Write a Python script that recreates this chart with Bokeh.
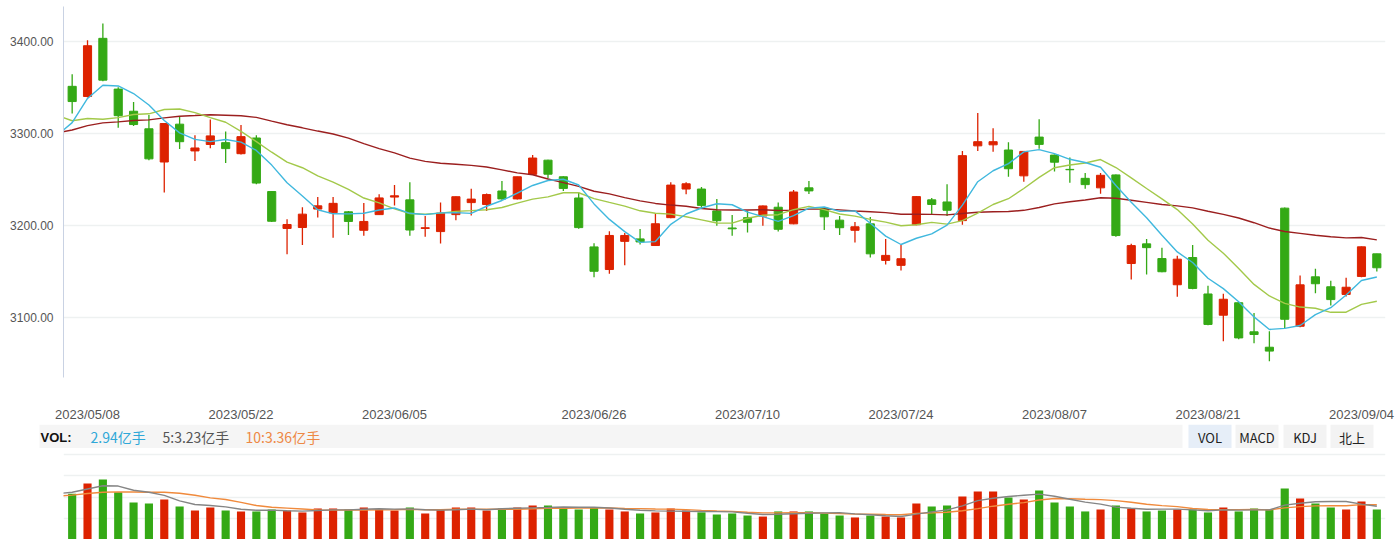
import pandas as pd
from bokeh.plotting import figure
from bokeh.layouts import column
from bokeh.models import Range1d, FixedTicker, NumeralTickFormatter, Grid, ColumnDataSource
from bokeh.core.properties import value
from bokeh.embed import file_html
from bokeh.resources import INLINE

# ---------------- data ----------------
may_days = [5, 8, 9, 10, 11, 12, 15, 16, 17, 18, 19, 22, 23, 24, 25, 26, 29, 30, 31]
jun_days = [1, 2, 5, 6, 7, 8, 9, 12, 13, 14, 15, 16, 19, 20, 21, 26, 27, 28, 29, 30]
jul_days = [3, 4, 5, 6, 7, 10, 11, 12, 13, 14, 17, 18, 19, 20, 21, 24, 25, 26, 27, 28, 31]
aug_days = [1, 2, 3, 4, 7, 8, 9, 10, 11, 14, 15, 16, 17, 18, 21, 22, 23, 24, 25, 28, 29, 30, 31]
sep_days = [1, 4, 5]
dates = ([f"2023/05/{d:02d}" for d in may_days] + [f"2023/06/{d:02d}" for d in jun_days] +
         [f"2023/07/{d:02d}" for d in jul_days] + [f"2023/08/{d:02d}" for d in aug_days] +
         [f"2023/09/{d:02d}" for d in sep_days])

tick_labels = ["2023/05/08", "2023/05/22", "2023/06/05", "2023/06/26", "2023/07/10",
               "2023/07/24", "2023/08/07", "2023/08/21", "2023/09/04"]

open_ = [3351, 3340, 3403, 3348, 3324, 3305, 3269, 3310, 3281, 3288,
         3290, 3278, 3295, 3237, 3197, 3198, 3218, 3214, 3215, 3195,
         3212, 3231, 3228, 3197, 3193.6, 3212, 3225, 3223, 3237.6, 3229,
         3255.6, 3271, 3253, 3230, 3177, 3152.5, 3183, 3185.7, 3178.5, 3208.7,
         3239.7, 3239.7, 3216, 3197.5, 3208.7, 3210.5, 3220, 3202, 3241, 3219,
         3206, 3195, 3202, 3162.4, 3157, 3201, 3228, 3225.7, 3205.5, 3286.5,
         3287.6, 3282, 3254, 3296, 3276.5, 3261, 3251.3, 3241, 3255, 3159,
         3180.3, 3164.4, 3136, 3165.5, 3126, 3103, 3116.5, 3085, 3068.3, 3219,
         3091, 3144.6, 3133.8, 3125.5, 3145, 3169.5]
high = [3364, 3401, 3419, 3350, 3334, 3320, 3311, 3318, 3298, 3315,
        3302, 3309, 3298, 3237.5, 3207, 3220, 3231, 3231, 3216, 3224.6,
        3234, 3244, 3247, 3210.5, 3225, 3231.5, 3240, 3235, 3248.4, 3253,
        3276.5, 3271.5, 3253.5, 3236, 3181, 3194, 3192, 3196.5, 3213.5, 3247,
        3247, 3242, 3229, 3211.6, 3216, 3222, 3225, 3238.6, 3248.4, 3220.3,
        3210.5, 3204, 3209.5, 3185.7, 3179.3, 3232.2, 3230, 3245, 3281, 3322,
        3305.6, 3290.5, 3281, 3315.4, 3277, 3274, 3257, 3257, 3255.5, 3180.3,
        3185.7, 3176, 3167.3, 3179.2, 3135, 3126.2, 3117, 3105.4, 3085.5, 3219.6,
        3146, 3153.3, 3140.3, 3143.6, 3177.5, 3169.6]
low = [3321.5, 3339, 3356.5, 3306, 3308, 3271, 3236, 3283, 3270, 3284,
       3268, 3277, 3245, 3204, 3169, 3179, 3209, 3187, 3190, 3189,
       3212, 3222, 3189, 3188, 3180.6, 3206, 3211, 3216, 3228, 3228.5,
       3255, 3251, 3237.6, 3196.8, 3144, 3148, 3157, 3179.6, 3178, 3208,
       3234, 3219, 3200, 3189, 3192.5, 3200, 3193.6, 3201.5, 3234.3, 3195.4,
       3190, 3181.7, 3165.5, 3158, 3151.4, 3200.5, 3212.7, 3210.5, 3201, 3281,
       3280, 3253, 3247.6, 3283.3, 3258.7, 3246.5, 3240, 3234.6, 3188, 3141.7,
       3147, 3149.5, 3123, 3131, 3092, 3074.7, 3077, 3072.5, 3053, 3088.8,
       3090, 3126.9, 3113.6, 3123.3, 3144, 3150.4]
close = [3334.5, 3395.0, 3357.7, 3319.2, 3309.6, 3272.4, 3310.7, 3291.0, 3284.2, 3297.3,
         3283.5, 3296.5, 3246.2, 3204.8, 3201.3, 3212.5, 3221.5, 3224.2, 3204.6, 3204.6,
         3230.1, 3232.4, 3195.3, 3197.8, 3213.6, 3231.4, 3228.8, 3233.7, 3229.0, 3253.0,
         3273.3, 3255.8, 3240.4, 3197.9, 3150.6, 3189.4, 3189.4, 3182.4, 3202.1, 3244.0,
         3245.4, 3222.0, 3205.4, 3196.6, 3203.7, 3221.4, 3196.1, 3236.5, 3237.7, 3209.6,
         3197.8, 3198.8, 3169.5, 3167.8, 3164.2, 3231.5, 3223.0, 3216.7, 3275.9, 3291.0,
         3291.0, 3261.7, 3280.5, 3288.1, 3268.8, 3260.6, 3244.5, 3254.6, 3189.3, 3178.4,
         3176.2, 3150.1, 3163.7, 3132.0, 3093.0, 3120.3, 3078.4, 3082.1, 3064.1, 3098.6,
         3135.9, 3137.1, 3119.9, 3133.3, 3177.1, 3154.4]
# closes of the 30 sessions before 2023/05/05 (needed for the moving averages)
pre_close = [3234.9, 3255.7, 3265.7, 3286.7, 3265.7, 3251.4, 3245.4, 3240.1, 3261.3, 3272.9,
             3296.4, 3312.6, 3301.9, 3327.2, 3315.4, 3313.6, 3327.2, 3318.4, 3338.2, 3385.6,
             3393.3, 3370.1, 3367.0, 3301.3, 3275.4, 3264.9, 3264.1, 3285.9, 3323.3, 3350.5]

volume = [4.48, 5.49, 5.88, 4.64, 3.63, 3.53, 3.92, 3.24, 2.84, 3.14,
          2.84, 2.75, 2.75, 2.94, 2.84, 2.65, 3.04, 3.04, 2.94, 3.14,
          2.94, 2.84, 3.14, 2.55, 2.94, 3.14, 3.14, 2.84, 3.04, 3.14,
          3.33, 3.33, 3.07, 2.94, 3.14, 2.94, 2.75, 2.55, 2.65, 3.04,
          2.84, 2.66, 2.45, 2.55, 2.35, 2.25, 2.75, 2.75, 2.75, 2.55,
          2.35, 2.16, 2.35, 2.25, 2.16, 3.53, 3.24, 3.33, 4.22, 4.71,
          4.71, 4.12, 3.92, 4.80, 3.63, 3.24, 2.75, 2.94, 3.33, 3.04,
          2.75, 2.84, 2.94, 2.94, 2.65, 3.14, 2.75, 3.04, 2.94, 5.00,
          4.02, 3.53, 3.14, 2.94, 3.73, 2.94]
# volumes (亿手) of the 10 sessions before 2023/05/05
pre_volume = [3.6, 3.9, 4.6, 4.3, 3.8, 3.7, 3.9, 4.3, 4.8, 5.7]

vol_header = ["VOL:", "2.94亿手", "5:3.23亿手", "10:3.36亿手"]
buttons = ["VOL", "MACD", "KDJ", "北上"]

# ---------------- styles ----------------
RED = "#dd2200"
GREEN = "#34a915"
MA_COLORS = {"ma5": "#40b8de", "ma10": "#a3c94a", "ma30": "#9b1f1f"}
VMA_COLORS = {"vma5": "#858585", "vma10": "#f08a3c"}
GRID = "#eef1f1"

n = len(close)
xs = list(range(n))
up = [c >= o for o, c in zip(open_, close)]
colors = [RED if u else GREEN for u in up]
body_top = [max(o, c) for o, c in zip(open_, close)]
body_bot = [min(o, c) for o, c in zip(open_, close)]

src = ColumnDataSource(dict(x=xs, o=open_, h=high, l=low, c=close, top=body_top,
                            bot=body_bot, color=colors, vol=volume))

# moving averages (from index -1 so that the line reaches the left edge)
cs = pd.Series(pre_close + close)
ma = {k: cs.rolling(w).mean().tolist()[len(pre_close) - 1:] for k, w in
      (("ma5", 5), ("ma10", 10), ("ma30", 30))}
vs = pd.Series(pre_volume + volume)
vma = {k: vs.rolling(w).mean().tolist()[len(pre_volume) - 1:] for k, w in
       (("vma5", 5), ("vma10", 10))}
ma_x = list(range(-1, n))

xr = Range1d(-0.565, n - 1 + 0.565)

W = 1398
RB = 13   # right border
# ---------------- price chart ----------------
p = figure(width=W, height=424, x_range=xr, y_range=Range1d(3035.5, 3437.5),
           output_backend="svg", toolbar_location=None,
           min_border_left=63, min_border_right=RB, min_border_top=6, min_border_bottom=46)
p.outline_line_color = None
p.background_fill_color = "white"
p.border_fill_color = "white"

p.segment(x0="x", y0="l", x1="x", y1="h", source=src, line_color="color", line_width=1.3)
p.vbar(x="x", top="top", bottom="bot", width=0.53, source=src,
       fill_color="color", line_color="color", line_width=1)
for k in ("ma30", "ma10", "ma5"):
    p.line(ma_x, ma[k], line_color=MA_COLORS[k], line_width=1.4)

yt = FixedTicker(ticks=[3100, 3200, 3300, 3400])
p.yaxis.ticker = yt
p.yaxis.formatter = NumeralTickFormatter(format="0.00")
p.yaxis.major_tick_line_color = None
p.yaxis.minor_tick_line_color = None
p.yaxis.axis_line_color = "#c9d2e3"
p.yaxis.major_label_standoff = 4
p.yaxis.major_label_text_font = "Liberation Sans"
p.yaxis.major_label_text_font_size = "12px"
p.yaxis.major_label_text_color = "#555555"

tick_idx = [dates.index(d) for d in tick_labels]
p.xaxis.ticker = FixedTicker(ticks=tick_idx)
p.xaxis.major_label_overrides = {i: d for i, d in zip(tick_idx, tick_labels)}
p.xaxis.axis_line_color = None
p.xaxis.major_tick_line_color = None
p.xaxis.minor_tick_line_color = None
p.xaxis.major_tick_out = 0
p.xaxis.major_label_standoff = 29
p.xaxis.major_label_text_font = "Liberation Sans"
p.xaxis.major_label_text_font_size = "13px"
p.xaxis.major_label_text_color = "#555555"

p.xgrid.visible = False
p.ygrid.grid_line_color = GRID
p.ygrid.grid_line_width = 1.5

# ---------------- header row ----------------
h = figure(width=W, height=24, x_range=Range1d(0, W), y_range=Range1d(24, 0),
           output_backend="svg", toolbar_location=None,
           x_axis_location=None, y_axis_location=None,
           min_border_left=0, min_border_right=0, min_border_top=0, min_border_bottom=0)
if "frame_align" in h.properties():
    h.frame_align = False
h.outline_line_color = None
h.xgrid.visible = False
h.ygrid.visible = False
h.quad(left=[39], right=[1182], top=[0], bottom=[24], fill_color="#f5f5f5", line_color=None)
btn_left = [1188, 1235, 1283, 1330]
btn_fill = ["#e6eef8", "#f3f3f3", "#f3f3f3", "#f3f3f3"]
h.quad(left=btn_left, right=[b + 43 for b in btn_left], top=[0] * 4, bottom=[24] * 4,
       fill_color=btn_fill, line_color=None)
h.text(x=[40], y=[12.5], text=[vol_header[0]], text_font=value("Liberation Sans"),
       text_font_style="bold", text_font_size="13px", text_color="#111111",
       text_baseline="middle", text_align="left")
h.text(x=[90, 162, 245], y=[12.5] * 3, text=vol_header[1:],
       text_font=value("Noto Sans CJK SC"), text_font_size="14px",
       text_color=["#2fa8d8", "#555555", "#ee8844"],
       text_baseline="middle", text_align="left")
h.text(x=[b + 21.5 for b in btn_left], y=[12.5] * 4, text=buttons,
       text_font=value("Noto Sans CJK SC"), text_font_size="13px", text_color="#222222",
       text_baseline="middle", text_align="center")

# ---------------- volume chart ----------------
v = figure(width=W, height=91, x_range=xr, y_range=Range1d(0, 8.92),
           output_backend="svg", toolbar_location=None,
           x_axis_location=None, y_axis_location=None,
           min_border_left=63, min_border_right=RB, min_border_top=0, min_border_bottom=0)
v.outline_line_color = None
v.xgrid.visible = False
v.ygrid.visible = False
v.add_layout(Grid(dimension=1, ticker=FixedTicker(ticks=[0, 2.08, 4.16, 6.24, 8.32]),
                  grid_line_color=GRID, grid_line_width=1.5))
v.vbar(x="x", top="vol", bottom=0, width=0.53, source=src,
       fill_color="color", line_color=None)
for k in ("vma10", "vma5"):
    v.line(ma_x, vma[k], line_color=VMA_COLORS[k], line_width=1.4)

layout = column(p, h, v, spacing=0)
open("out.html", "w").write(file_html(layout, INLINE))
